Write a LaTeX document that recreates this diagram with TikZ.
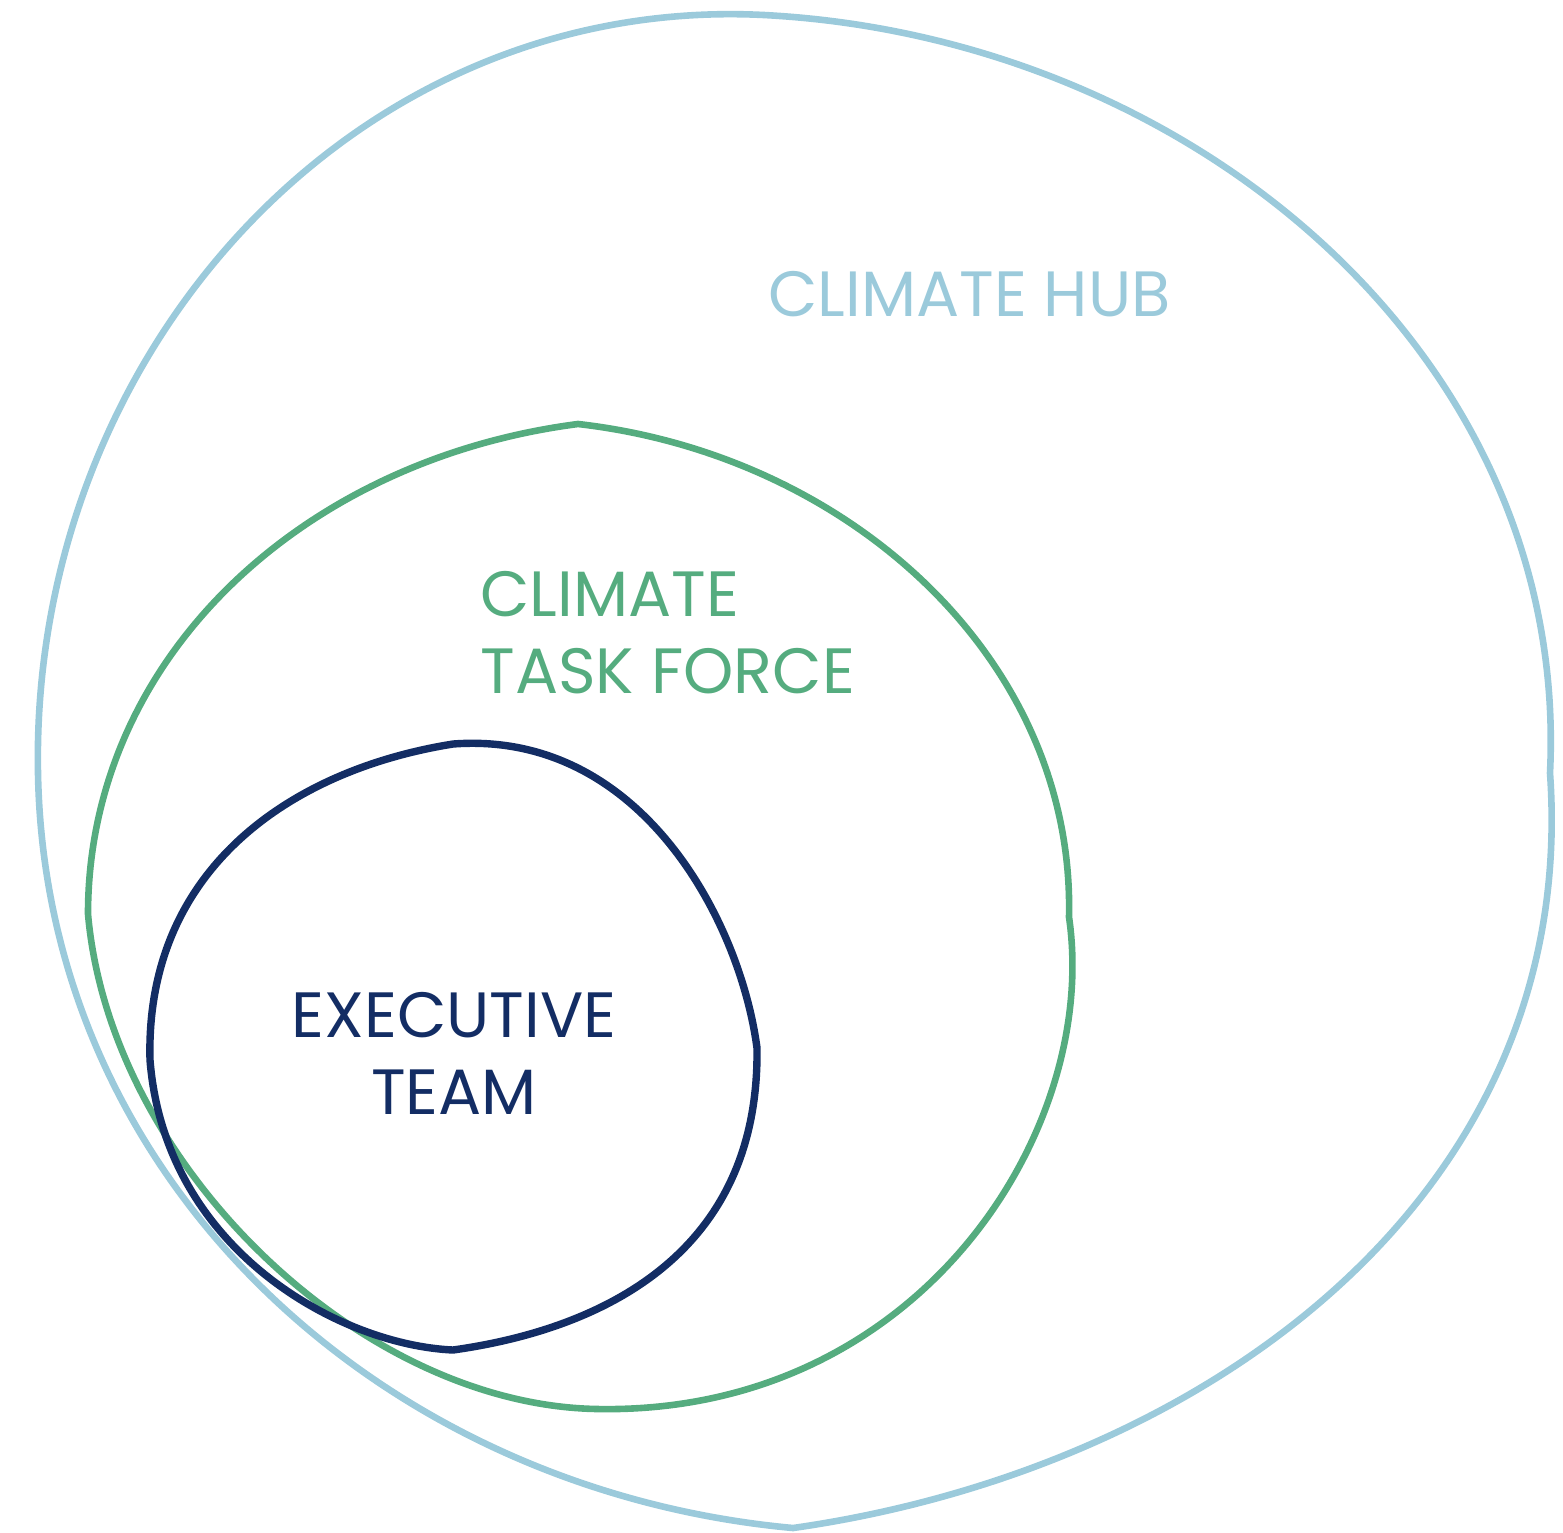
\documentclass[tikz,border=0pt]{standalone}
\usepackage{fontspec}
\setmainfont{Poppins}
\usepackage{tikz}
\usetikzlibrary{positioning}
\definecolor{hubblue}{HTML}{9BCADB}
\definecolor{forcegreen}{HTML}{55AC7F}
\definecolor{execnavy}{HTML}{132D64}
\tikzstyle{blob}=[line width=3.3pt,line join=round]
\tikzstyle{lbl}=[inner sep=0pt,font=\fontsize{32}{38.5}\selectfont]
\begin{document}
\begin{tikzpicture}[x=0.5pt,y=-0.5pt]
	\useasboundingbox (0,0) rectangle (1563,1532);
	% climate hub
	\coordinate (hubT) at (780,16);
	\coordinate (hubR) at (1550,773);
	\coordinate (hubB) at (793,1528);
	\coordinate (hubL) at (38,773);
	\draw[blob,hubblue] (hubT) .. controls (1200,45) and (1570,360) .. (hubR)
		.. controls (1580,1200) and (1200,1470) .. (hubB)
		.. controls (380,1490) and (45,1180) .. (hubL)
		.. controls (30,350) and (360,-15) .. cycle;
	% task force
	\coordinate (tfT) at (578,424);
	\coordinate (tfR) at (1069,917);
	\coordinate (tfB) at (597,1409);
	\coordinate (tfL) at (88,914);
	\draw[blob,forcegreen] (tfT) .. controls (850,455) and (1075,660) .. (tfR)
		.. controls (1100,1130) and (920,1415) .. (tfB)
		.. controls (360,1405) and (110,1165) .. (tfL)
		.. controls (88,660) and (300,460) .. cycle;
	% executive team
	\coordinate (exT) at (453,744);
	\coordinate (exR) at (757,1048);
	\coordinate (exB) at (453,1350);
	\coordinate (exL) at (150,1060);
	\draw[blob,execnavy,line width=3.7pt] (exT) .. controls (640,730) and (740,920) .. (exR)
		.. controls (760,1280) and (560,1335) .. (exB)
		.. controls (340,1345) and (165,1250) .. (exL)
		.. controls (145,870) and (290,770) .. cycle;

	\node[lbl,hubblue,anchor=base west] (hub) at (768,316) {CLIMATE HUB};
	\node[lbl,forcegreen,anchor=base west,align=left] (force) at (480,693) {CLIMATE\\TASK FORCE};
	\node[lbl,execnavy,anchor=base,align=center] (exec) at (454,1114) {EXECUTIVE\\TEAM};
\end{tikzpicture}
\end{document}
